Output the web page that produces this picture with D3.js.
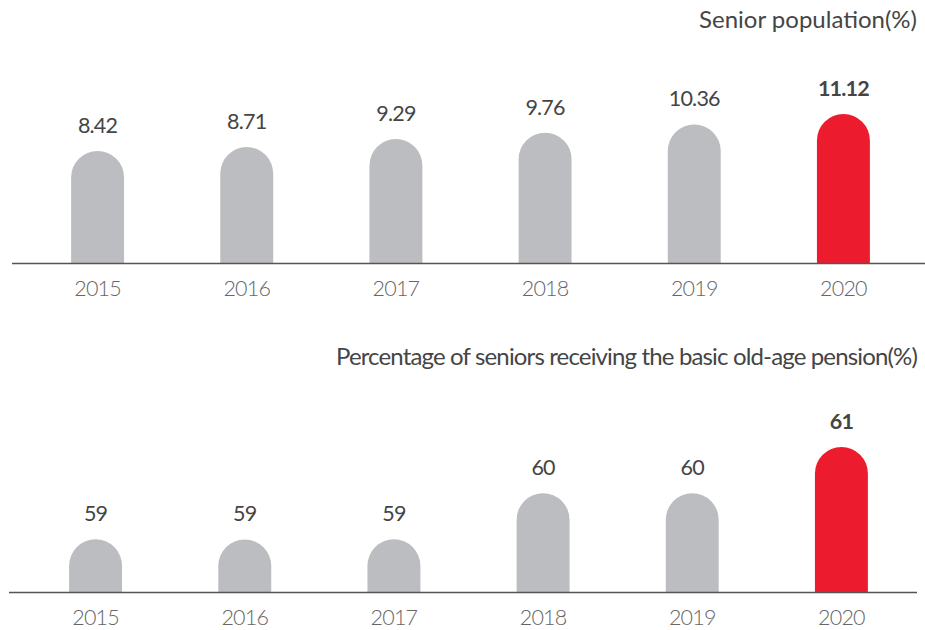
<!DOCTYPE html>
<html>
<head>
<meta charset="utf-8">
<script src="https://cdn.jsdelivr.net/npm/d3@7"></script>
<style>
  html, body { margin: 0; padding: 0; background: #ffffff; }
  svg { display: block; }
  text { font-family: "Lato", "Noto Sans", sans-serif; }
</style>
</head>
<body>
<svg id="chart" width="925" height="630"></svg>
<script>
// ---- data ----
const years = ["2015", "2016", "2017", "2018", "2019", "2020"];
const seniorPopulation = [8.42, 8.71, 9.29, 9.76, 10.36, 11.12];
const pensionShare = [59, 59, 59, 60, 60, 61];
const highlightYear = "2020";
const title1 = "Senior population(%)";
const title2 = "Percentage of seniors receiving the basic old-age pension(%)";

const GRAY = "#bcbdc0", RED = "#ec1c2e", TEXT = "#454545", AXIS = "#555555";

const svg = d3.select("#chart");

function panel(cfg) {
  const g = svg.append("g");
  const x = d3.scaleBand().domain(years).range(cfg.xRange)
    .paddingInner(0.645).paddingOuter(0.3225);
  const y = d3.scaleLinear().domain(cfg.yDomain).range([cfg.base, cfg.top]);
  const w = x.bandwidth();
  const r = w / 2;

  // title
  g.append("text")
    .attr("x", cfg.titleRight).attr("y", cfg.titleY)
    .attr("text-anchor", "end")
    .attr("font-size", cfg.titleSize).attr("font-weight", 400)
    .attr("fill", TEXT).attr("letter-spacing", cfg.titleSpacing)
    .text(cfg.title);

  const data = years.map((yr, i) => ({ yr, v: cfg.values[i] }));

  // bars with rounded tops
  g.selectAll("path.bar").data(data).join("path")
    .attr("class", "bar")
    .attr("fill", d => d.yr === highlightYear ? RED : GRAY)
    .attr("d", d => {
      const x0 = x(d.yr), x1 = x0 + w, yb = y.range()[0], yt = y(d.v);
      return `M${x0},${yb} L${x0},${yt + r} A${r},${r} 0 0 1 ${x1},${yt + r} L${x1},${yb} Z`;
    });

  // value labels
  g.selectAll("text.val").data(data).join("text")
    .attr("class", "val")
    .attr("x", d => x(d.yr) + w / 2)
    .attr("y", d => y(d.v) - 18)
    .attr("text-anchor", "middle")
    .attr("font-size", 21.5)
    .attr("font-weight", d => d.yr === highlightYear ? 700 : 400)
    .attr("fill", TEXT)
    .attr("letter-spacing", -0.8)
    .text(d => cfg.fmt(d.v));

  // axis
  const axis = d3.axisBottom(x).tickSize(0).tickPadding(0);
  const ag = g.append("g").attr("transform", `translate(0,${cfg.base})`).call(axis);
  ag.select(".domain").remove();
  ag.selectAll(".tick text")
    .attr("dy", null).attr("y", 33)
    .attr("font-size", 21.5).attr("font-weight", 300)
    .attr("font-family", "Lato, sans-serif")
    .attr("fill", "#666666").attr("letter-spacing", -0.8);
  g.append("line")
    .attr("x1", cfg.lineX[0]).attr("x2", cfg.lineX[1])
    .attr("y1", cfg.base + 0.5).attr("y2", cfg.base + 0.5)
    .attr("stroke", AXIS).attr("stroke-width", 1.5);
}

panel({
  title: title1, titleRight: 917, titleY: 28, titleSize: 24, titleSpacing: 0,
  values: seniorPopulation, xRange: [23, 918], yDomain: [0.25, 11.12],
  base: 263, top: 114, lineX: [12, 925], fmt: d => d.toFixed(2)
});

panel({
  title: title2, titleRight: 917, titleY: 365, titleSize: 24, titleSpacing: -0.85,
  values: pensionShare, xRange: [21, 916], yDomain: [57.86, 61],
  base: 592, top: 447, lineX: [9, 917], fmt: d => d3.format("d")(d)
});
</script>
</body>
</html>
